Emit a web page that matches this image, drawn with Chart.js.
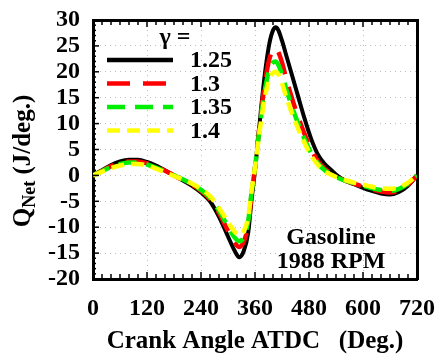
<!DOCTYPE html>
<html>
<head>
<meta charset="utf-8">
<script src="https://cdn.jsdelivr.net/npm/chart.js@4.4.1/dist/chart.umd.min.js"></script>
<style>
  html, body { margin: 0; padding: 0; background: #fff; }
  #wrap { width: 436px; height: 358px; }
</style>
</head>
<body>
<div id="wrap"><canvas id="qChart" width="436" height="358"></canvas></div>
<script>
// crank angle (deg ATDC)
var angle = [0, 20, 40, 60, 80, 100, 120, 140, 160, 180, 200, 220, 240, 260, 280, 300, 315, 325, 335, 345,
  352, 360, 368, 376, 384, 392, 400, 406, 412, 420, 430, 440, 455, 470, 485, 500, 515, 530, 545, 560,
  580, 600, 620, 640, 660, 680, 700, 720];

// net heat release (J/deg) for each gamma
var q125 = [0, 1.0, 2.0, 2.7, 3.0, 3.0, 2.6, 1.9, 1.0, 0.0, -1.0, -2.0, -3.3, -5.0, -8.0, -11.8, -14.6, -15.8, -14.6, -11,
  -5, 1, 8, 15, 21, 25.5, 28, 28.6, 28, 26, 23, 20, 15.5, 11, 7, 4, 2.2, 1, -0.2, -1,
  -1.7, -2.4, -3.0, -3.5, -3.7, -3.2, -2, 0];
var q130 = [0, 0.9, 1.8, 2.4, 2.7, 2.7, 2.3, 1.7, 0.9, 0, -0.9, -1.8, -3.0, -4.6, -7.3, -10.7, -13.0, -13.8, -12.8, -9.5,
  -4, 1.5, 8, 14, 19, 22.5, 24.2, 24.5, 23.8, 21.8, 18.5, 15.5, 11.5, 8, 5, 2.7, 1.3, 0.4, -0.4, -1.0,
  -1.6, -2.2, -2.7, -3.1, -3.3, -2.9, -1.8, 0];
var q135 = [0, 0.8, 1.6, 2.2, 2.5, 2.5, 2.1, 1.5, 0.8, 0, -0.8, -1.7, -2.8, -4.3, -6.8, -9.9, -12.0, -12.7, -11.9, -8.8,
  -3.5, 1.5, 7.5, 13, 17.5, 20.5, 21.8, 22, 21.3, 19.5, 16.5, 13.8, 10.2, 7, 4.3, 2.3, 1, 0.2, -0.5, -1.0,
  -1.5, -2.0, -2.5, -2.8, -3.0, -2.6, -1.6, 0];
var q140 = [0, 0.7, 1.4, 1.9, 2.2, 2.2, 1.9, 1.3, 0.6, -0.1, -0.8, -1.6, -2.6, -4.0, -6.3, -9.0, -10.9, -11.5, -10.8, -8.0,
  -3.2, 1.5, 7, 12, 16, 18.7, 19.8, 20, 19.5, 17.8, 15, 12.5, 9.2, 6.3, 3.8, 2, 0.8, 0.1, -0.5, -0.9,
  -1.4, -1.8, -2.2, -2.5, -2.6, -2.3, -1.4, 0];

var gammaLabels = ['1.25', '1.3', '1.35', '1.4'];
var xTicks = [0, 120, 240, 360, 480, 600, 720];
var yTicks = [-20, -15, -10, -5, 0, 5, 10, 15, 20, 25, 30];

var serif = "'Liberation Serif', 'Times New Roman', serif";
var colors = ['#000000', '#ff0000', '#00ee00', '#ffff00'];
var dashes = [[], [23, 13], [18, 10], [13, 7]];

function pts(arr) {
  return arr.map(function (v, i) { return { x: angle[i], y: v }; });
}

var series = [q125, q130, q135, q140];
var datasets = series.map(function (s, i) {
  return {
    label: gammaLabels[i],
    data: pts(s),
    borderColor: colors[i],
    borderWidth: i === 0 ? 4 : 4.5,
    borderDash: dashes[i],
    pointRadius: 0,
    fill: false,
    cubicInterpolationMode: 'monotone',
    order: 3 - i
  };
});

// no automatic padding for overflowing tick labels
function noPad(s) {
  s.paddingLeft = 0; s.paddingRight = 0; s.paddingTop = 0; s.paddingBottom = 0;
}

// legend, annotation, y title and minor ticks
var extras = {
  id: 'extras',
  afterDraw: function (chart) {
    var c = chart.ctx, a = chart.chartArea;
    var xs = chart.scales.x, ys = chart.scales.y;
    c.save();
    c.strokeStyle = '#000';
    c.lineWidth = 1.5;
    // minor ticks top / bottom
    for (var v = 0; v <= 720; v += 20) {
      var px = xs.getPixelForValue(v);
      var len = (v % 120 === 0) ? 7 : 5;
      c.beginPath();
      c.moveTo(px, a.top); c.lineTo(px, a.top + len);
      c.moveTo(px, a.bottom); c.lineTo(px, a.bottom - len);
      c.stroke();
    }
    // minor ticks left
    for (var w = -20; w <= 30; w += 1) {
      var py = ys.getPixelForValue(w);
      var l2 = (w % 5 === 0) ? 6 : 3;
      c.beginPath();
      c.moveTo(a.left, py); c.lineTo(a.left + l2, py);
      c.stroke();
    }

    // legend
    c.fillStyle = '#000';
    c.font = 'bold 24px ' + serif;
    c.textAlign = 'center';
    c.textBaseline = 'middle';
    c.fillText('\u03b3 =', a.left + 82, a.top + 18);
    chart.data.datasets.forEach(function (ds, i) {
      var y = a.top + 40 + i * 23.5;
      c.save();
      c.strokeStyle = ds.borderColor;
      c.lineWidth = 4.5;
      c.setLineDash(ds.borderDash);
      c.beginPath();
      c.moveTo(a.left + 14, y); c.lineTo(a.left + 80, y);
      c.stroke();
      c.restore();
      c.textAlign = 'left';
      c.fillText(ds.label, a.left + 97, y + 1);
    });

    // annotation
    c.textAlign = 'center';
    c.fillText('Gasoline', a.left + 238, a.bottom - 41);
    c.fillText('1988 RPM', a.left + 238, a.bottom - 17);

    // y axis title with subscript
    c.translate(22, 161);
    c.rotate(-Math.PI / 2);
    var f1 = 'bold 25px ' + serif, f2 = 'bold 18px ' + serif;
    c.font = f1; var wQ = c.measureText('Q').width;
    c.font = f2; var wN = c.measureText('Net').width;
    c.font = f1; var wU = c.measureText(' (J/deg.)').width;
    var x0 = -(wQ + wN + wU) / 2;
    c.textAlign = 'left';
    c.textBaseline = 'alphabetic';
    c.font = f1; c.fillText('Q', x0, 8);
    c.font = f2; c.fillText('Net', x0 + wQ, 13);
    c.font = f1; c.fillText(' (J/deg.)', x0 + wQ + wN, 8);
    c.restore();
  }
};

var ctx = document.getElementById('qChart').getContext('2d');
var myChart = new Chart(ctx, {
  type: 'line',
  data: { datasets: datasets },
  plugins: [extras],
  options: {
    responsive: false,
    animation: false,
    layout: { autoPadding: false, padding: { top: 20, right: 19, left: 0, bottom: 0 } },
    plugins: { legend: { display: false }, tooltip: { enabled: false } },
    scales: {
      x: {
        type: 'linear', position: 'bottom', min: 0, max: 720,
        afterBuildTicks: function (s) { s.ticks = xTicks.map(function (v) { return { value: v }; }); },
        ticks: { color: '#000', padding: 15, maxRotation: 0, autoSkip: false, font: { family: serif, size: 24, weight: 'bold' } },
        grid: { color: '#bdbdbd', lineWidth: 1, drawTicks: false },
        border: { color: '#000', width: 3, dash: [1, 4] },
        title: { display: true, text: 'Crank Angle ATDC   (Deg.)', color: '#000', padding: { top: 0, bottom: 1 },
          font: { family: serif, size: 25, weight: 'bold' } },
        afterFit: function (s) { s.height = 79; noPad(s); }
      },
      x2: {
        type: 'linear', position: 'top', min: 0, max: 720,
        ticks: { display: false }, grid: { display: false },
        border: { color: '#000', width: 3 },
        afterFit: function (s) { s.height = 0; noPad(s); }
      },
      y: {
        min: -20, max: 30,
        afterBuildTicks: function (s) { s.ticks = yTicks.map(function (v) { return { value: v }; }); },
        ticks: { color: '#000', padding: 13, autoSkip: false, font: { family: serif, size: 24, weight: 'bold' } },
        grid: { color: '#bdbdbd', lineWidth: 1, drawTicks: false },
        border: { color: '#000', width: 3, dash: [1, 4] },
        afterFit: function (s) { s.width = 93; noPad(s); }
      },
      y2: {
        position: 'right', min: -20, max: 30,
        ticks: { display: false }, grid: { display: false },
        border: { color: '#000', width: 3 },
        afterFit: function (s) { s.width = 0; noPad(s); }
      }
    }
  }
});
</script>
</body>
</html>
